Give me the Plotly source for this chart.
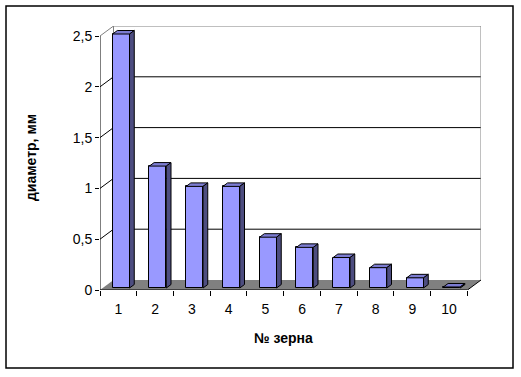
import plotly.graph_objects as go

categories = [1, 2, 3, 4, 5, 6, 7, 8, 9, 10]
tick_labels = ["1", "2", "3", "4", "5", "6", "7", "8", "9", "10"]
diameters = [2.5, 1.2, 1.0, 1.0, 0.5, 0.4, 0.3, 0.2, 0.1, 0.01]
y_ticks = [0, 0.5, 1, 1.5, 2, 2.5]
y_tick_labels = ["0", "0,5", "1", "1,5", "2", "2,5"]
x_title = "№ зерна"
y_title = "диаметр, мм"

FONT = "Liberation Sans, Arial, sans-serif"
FRONT = "#9999FF"
TOP = "#7C7CD2"
SIDE = "#4D4D80"
FLOOR = "#808080"

# 3D depth offsets in data units
DX = 0.368
DY = 0.0984
F0, F1 = 0.2, 0.55
BW = 0.46
YMAX = max(y_ticks)
x0, x1 = 0.5, len(categories) + 0.5

fig = go.Figure()

# front faces
fig.add_trace(go.Bar(
    x=[c + F0 * DX for c in categories], y=diameters, base=F0 * DY, width=BW,
    marker=dict(color=FRONT, line=dict(color="black", width=1)),
    hoverinfo="skip", showlegend=False))

# top and side faces
tx, ty, sx, sy = [], [], [], []
for c, v in zip(categories, diameters):
    l = c + F0 * DX - BW / 2
    r = c + F0 * DX + BW / 2
    b = F0 * DY
    t = v + F0 * DY
    ddx = (F1 - F0) * DX
    ddy = (F1 - F0) * DY
    tx += [l, r, r + ddx, l + ddx, l, None]
    ty += [t, t, t + ddy, t + ddy, t, None]
    sx += [r, r + ddx, r + ddx, r, r, None]
    sy += [b, b + ddy, t + ddy, t, b, None]
fig.add_trace(go.Scatter(x=tx, y=ty, fill="toself", fillcolor=TOP, mode="lines",
                         line=dict(color="black", width=1), hoverinfo="skip", showlegend=False))
fig.add_trace(go.Scatter(x=sx, y=sy, fill="toself", fillcolor=SIDE, mode="lines",
                         line=dict(color="black", width=1), hoverinfo="skip", showlegend=False))

shapes = []
# floor
shapes.append(dict(type="path", xref="x", yref="y", layer="below",
                   path=f"M {x0},0 L {x1},0 L {x1+DX},{DY} L {x0+DX},{DY} Z",
                   fillcolor=FLOOR, line=dict(width=0)))
# back wall gridlines and diagonals
for v in y_ticks:
    if v == 0:
        continue
    col = "#808080" if v == YMAX else "black"
    shapes.append(dict(type="line", xref="x", yref="y", layer="below",
                       x0=x0 + DX, x1=x1 + DX, y0=v + DY, y1=v + DY,
                       line=dict(color=col, width=1)))
    shapes.append(dict(type="line", xref="x", yref="y", layer="below",
                       x0=x0, x1=x0 + DX, y0=v, y1=v + DY,
                       line=dict(color=col, width=1)))
# wall edges
shapes.append(dict(type="line", xref="x", yref="y", layer="below",
                   x0=x1 + DX, x1=x1 + DX, y0=DY, y1=YMAX + DY,
                   line=dict(color="#808080", width=1)))
shapes.append(dict(type="line", xref="x", yref="y", layer="below",
                   x0=x0 + DX, x1=x0 + DX, y0=DY, y1=YMAX + DY,
                   line=dict(color="#808080", width=1)))
# front axes
shapes.append(dict(type="line", xref="x", yref="y",
                   x0=x0, x1=x1, y0=0, y1=0, line=dict(color="black", width=1)))
shapes.append(dict(type="line", xref="x", yref="y",
                   x0=x1, x1=x1 + DX, y0=0, y1=DY, line=dict(color="black", width=1)))
shapes.append(dict(type="line", xref="x", yref="y",
                   x0=x0, x1=x0, y0=0, y1=YMAX, line=dict(color="black", width=1)))
# outer border
shapes.append(dict(type="rect", xref="paper", yref="paper",
                   x0=-0.2467, x1=1.084, y0=-0.2955, y1=1.0758,
                   line=dict(color="black", width=1.5)))

fig.update_layout(
    width=521, height=377,
    margin=dict(l=100, r=40, t=26, b=87),
    paper_bgcolor="white", plot_bgcolor="white",
    separators=", ",
    bargap=0,
    shapes=shapes,
    font=dict(family=FONT, size=14, color="black"),
    xaxis=dict(range=[x0, x1 + DX], tickvals=categories, ticktext=tick_labels,
               ticks="", showgrid=False, zeroline=False, showline=False,
               ticklabelstandoff=9, fixedrange=True),
    xaxis2=dict(range=[x0, x1 + DX], overlaying="x", side="bottom",
                tickvals=[c - 0.5 for c in categories] + [x1],
                ticks="outside", ticklen=5, tickcolor="black",
                showticklabels=False, showgrid=False, zeroline=False, showline=False,
                fixedrange=True),
    yaxis=dict(range=[0, YMAX + DY], tickvals=y_ticks, ticktext=y_tick_labels,
               ticks="outside", ticklen=4, tickcolor="black",
               showgrid=False, zeroline=False, showline=False, fixedrange=True),
    annotations=[
        dict(text=f"<b>{x_title}</b>", xref="x", yref="paper",
             x=(x0 + x1) / 2, y=-0.182, xanchor="center", yanchor="middle",
             showarrow=False, font=dict(size=14, family=FONT)),
        dict(text=f"<b>{y_title}</b>", xref="paper", yref="paper",
             x=-0.181, y=0.5, xanchor="center", yanchor="middle",
             textangle=-90, showarrow=False, font=dict(size=14, family=FONT)),
    ],
)
# invisible trace so the tick-mark axis renders
fig.add_trace(go.Scatter(x=[x0], y=[0], xaxis="x2", mode="markers",
                         marker=dict(opacity=0), hoverinfo="skip", showlegend=False))

fig.write_html("out.html", config={"displayModeBar": False},
               post_script="document.body.style.margin='0';")
